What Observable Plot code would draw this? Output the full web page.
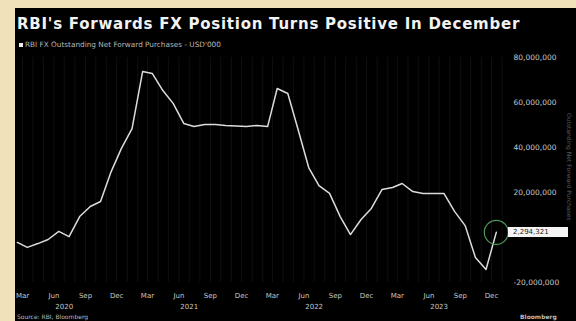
<!DOCTYPE html>
<html>
<head>
<meta charset="utf-8">
<script src="https://cdn.jsdelivr.net/npm/d3@7"></script>
<script src="https://cdn.jsdelivr.net/npm/@observablehq/plot@0.6"></script>
<style>
  html, body { margin: 0; padding: 0; }
  body { width: 576px; height: 321px; overflow: hidden; background: #f1e1bb; position: relative; font-family: "DejaVu Sans", sans-serif; }
  #panel { position: absolute; left: 15px; top: 8px; width: 561px; height: 313px; background: #000; }
  #title { position: absolute; left: 17px; top: 15px; font: bold 15px "DejaVu Sans", sans-serif; color: #f2f2f2; white-space: nowrap; letter-spacing: 0.75px; }
  #legend { position: absolute; left: 19px; top: 40px; font: 7.3px "DejaVu Sans", sans-serif; color: #b8b8b8; white-space: nowrap; display: flex; align-items: center; }
  #legend .sw { width: 4px; height: 4px; background: #eee; margin-right: 2px; }
  #chart { position: absolute; left: 15px; top: 50px; width: 561px; height: 271px; overflow: hidden; }
  #side { position: absolute; left: 566px; top: 113px; writing-mode: vertical-rl; font: 6px "DejaVu Sans", sans-serif; color: #5a5a5a; white-space: nowrap; }
  #valbox { position: absolute; left: 508px; width: 60px; height: 10px; background: #f4f4f4; color: #222; font: 7px "DejaVu Sans", sans-serif; line-height: 10px; padding-left: 5px; box-sizing: border-box; }
  #source { position: absolute; left: 17px; top: 313px; font: 6px "DejaVu Sans", sans-serif; color: #bbb; white-space: nowrap; }
  #brand { position: absolute; left: 520px; top: 313px; font: bold 6px "DejaVu Sans", sans-serif; color: #bbb; white-space: nowrap; }
</style>
</head>
<body>
<div id="panel"></div>
<div id="title">RBI's Forwards FX Position Turns Positive In December</div>
<div id="legend"><span class="sw"></span>RBI FX Outstanding Net Forward Purchases - USD'000</div>
<div id="chart"></div>
<div id="side">Outstanding Net Forward Purchases</div>
<div id="source">Source: RBI, Bloomberg</div>
<div id="brand">Bloomberg</div>
<script>
// Data: monthly observations (mid-month), values in USD billions
const months = [
  "2020-02-15","2020-03-15","2020-04-15","2020-05-15","2020-06-15","2020-07-15","2020-08-15","2020-09-15","2020-10-15","2020-11-15","2020-12-15",
  "2021-01-15","2021-02-15","2021-03-15","2021-04-15","2021-05-15","2021-06-15","2021-07-15","2021-08-15","2021-09-15","2021-10-15","2021-11-15","2021-12-15",
  "2022-01-15","2022-02-15","2022-03-15","2022-04-15","2022-05-15","2022-06-15","2022-07-15","2022-08-15","2022-09-15","2022-10-15","2022-11-15","2022-12-15",
  "2023-01-15","2023-02-15","2023-03-15","2023-04-15","2023-05-15","2023-06-15","2023-07-15","2023-08-15","2023-09-15","2023-10-15","2023-11-15","2023-12-15"
];
const values = [
  -2.2, -4.4, -2.7, -0.9, 2.7, 0.4, 9.3, 13.8, 16.0, 29.3, 39.6,
  48.4, 73.8, 72.9, 65.3, 59.6, 50.7, 49.3, 50.2, 50.2, 49.8, 49.6, 49.3,
  49.8, 49.3, 66.2, 64.0, 48.0, 31.1, 23.1, 19.6, 9.3, 1.3, 8.0, 12.9,
  21.3, 22.2, 24.0, 20.4, 19.6, 19.6, 19.6, 11.6, 5.3, -8.9, -14.2, 2.3
];
const lastLabel = "2,294,321";

const xTickDates = [
  "2020-03-01","2020-06-01","2020-09-01","2020-12-01",
  "2021-03-01","2021-06-01","2021-09-01","2021-12-01",
  "2022-03-01","2022-06-01","2022-09-01","2022-12-01",
  "2023-03-01","2023-06-01","2023-09-01","2023-12-01"
];
const xTickLabels = ["Mar","Jun","Sep","Dec","Mar","Jun","Sep","Dec","Mar","Jun","Sep","Dec","Mar","Jun","Sep","Dec"];
const yearDates = ["2020-07-01","2021-07-01","2022-07-01","2023-07-01"];
const yearLabels = ["2020","2021","2022","2023"];
const yTicks = [-20, 20, 40, 60, 80];
const yTickLabels = ["-20,000,000","20,000,000","40,000,000","60,000,000","80,000,000"];

const data = months.map((m, i) => ({date: new Date(m), value: values[i]}));
const last = data[data.length - 1];
const xt = xTickDates.map((d, i) => ({date: new Date(d), label: xTickLabels[i]}));
const yr = yearDates.map((d, i) => ({date: new Date(d), label: yearLabels[i]}));
const yt = yTicks.map((v, i) => ({v, label: yTickLabels[i]}));
const gridMonths = d3.utcMonth.range(new Date("2020-03-01"), new Date("2024-01-02"));

const chart = Plot.plot({
  width: 561,
  height: 271,
  marginLeft: 7,
  marginRight: 85,
  marginTop: 7,
  marginBottom: 39,
  x: {type: "utc", domain: [new Date("2020-03-01"), new Date("2023-12-01")], axis: null},
  y: {domain: [-20, 80], axis: null},
  style: {background: "transparent", color: "#ccc", fontFamily: "DejaVu Sans, sans-serif", overflow: "visible"},
  marks: [
    Plot.ruleX(gridMonths, {x: d => d, stroke: "#101010", strokeWidth: 1}),
    Plot.line(data, {x: "date", y: "value", stroke: "#dcdcdc", strokeWidth: 1.5, strokeLinejoin: "round"}),
    Plot.dot([last], {x: "date", y: "value", r: 12, stroke: "#4f9a5d", strokeWidth: 1.2, fill: "none"}),
    Plot.text(xt, {x: "date", text: "label", frameAnchor: "bottom", dy: 15, fill: "#c8c8c8", fontSize: 7}),
    Plot.text(yr, {x: "date", text: "label", frameAnchor: "bottom", dy: 26, fill: "#c8c8c8", fontSize: 7}),
    Plot.text(yt, {y: "v", text: "label", frameAnchor: "right", dx: 22, textAnchor: "start", fill: "#c8c8c8", fontSize: 7.5})
  ]
});
document.getElementById("chart").appendChild(chart);

const yPix = chart.scale("y").apply(last.value);
const box = document.createElement("div");
box.id = "valbox";
box.textContent = lastLabel;
box.style.top = (50 + yPix - 5) + "px";
document.body.appendChild(box);
</script>
</body>
</html>
